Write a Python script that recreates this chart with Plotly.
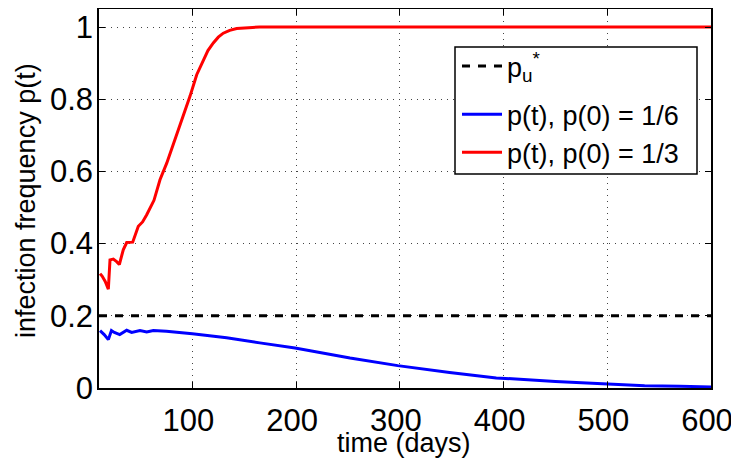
import plotly.graph_objects as go

# ---- data ----
t_red = [11, 13, 16, 19, 20.6, 23.8, 27, 29.6, 33.4, 36.7, 42.5, 47.9, 52, 56, 63,
         68.8, 75.3, 83.3, 91.3, 97.7, 104.2, 110.5, 115, 120.2, 125, 129.8, 136,
         142.7, 150, 158, 165, 200, 300, 400, 500, 600]
p_red = [0.317, 0.31, 0.295, 0.274, 0.355, 0.357, 0.35, 0.342, 0.383, 0.403, 0.404,
         0.448, 0.46, 0.48, 0.52, 0.577, 0.623, 0.688, 0.752, 0.808, 0.868, 0.909,
         0.935, 0.956, 0.972, 0.983, 0.991, 0.996, 0.998, 0.999, 1.0, 1.0, 1.0, 1.0,
         1.0, 1.0]

t_blue = [11, 15, 19, 22, 24.8, 30, 36.7, 41.5, 49.5, 56, 62.4, 75, 100, 133, 165,
          199, 252, 298, 348, 393, 450, 493, 536, 570, 600]
p_blue = [0.159, 0.148, 0.134, 0.159, 0.154, 0.148, 0.16, 0.154, 0.159, 0.155, 0.159,
          0.157, 0.15, 0.139, 0.125, 0.111, 0.083, 0.062, 0.043, 0.028, 0.018, 0.011,
          0.006, 0.005, 0.003]

p_u_star = 0.2
x_limits = [10, 600]
x_ticks = [100, 200, 300, 400, 500, 600]
y_ticks = [0, 0.2, 0.4, 0.6, 0.8, 1]
y_tick_labels = ["0", "0.2", "0.4", "0.6", "0.8", "1"]
x_title = "time (days)"
y_title = "infection frequency p(t)"

FONT = "Liberation Sans, Arial, sans-serif"

# the page body adds an 8px margin; layout numbers below are window pixels
OFF = 8
W, H = 739 - OFF, 458 - OFF
L, R, T, B = 99 - OFF, 711 - OFF, 9 - OFF, 388 - OFF
pw, ph = R - L, B - T

def px(x):
    return (x - OFF - L) / pw

def py(y):
    return (B - (y - OFF)) / ph

fig = go.Figure()
fig.add_trace(go.Scatter(
    x=x_limits, y=[p_u_star, p_u_star], mode="lines",
    name="p<sub>u</sub><sup>*</sup>", legendgroup="a",
    line=dict(color="black", width=3, dash="8px,8px")))
fig.add_trace(go.Scatter(
    x=t_blue, y=p_blue, mode="lines", name="p(t), p(0) = 1/6", legendgroup="b",
    line=dict(color="#0000ff", width=3)))
fig.add_trace(go.Scatter(
    x=t_red, y=p_red, mode="lines", name="p(t), p(0) = 1/3", legendgroup="b",
    line=dict(color="#ff0000", width=3)))

axis_common = dict(
    showline=True, linecolor="black", linewidth=1.5, mirror="ticks",
    ticks="inside", ticklen=6, tickcolor="black", tickwidth=1,
    showgrid=True, gridcolor="#444", gridwidth=1, griddash="1px,5px",
    zeroline=False, automargin=False,
    tickfont=dict(family=FONT, size=31, color="black"),
)

fig.update_layout(
    width=W, height=H,
    margin=dict(l=L, r=W - R, t=T, b=H - B),
    paper_bgcolor="white", plot_bgcolor="white",
    xaxis=dict(range=x_limits, tickvals=x_ticks, ticklabelstandoff=4,
               ticklabelshift=-4, **axis_common),
    yaxis=dict(range=[0, 1.05], tickvals=y_ticks, ticktext=y_tick_labels,
               ticklabelstandoff=-2, **axis_common),
    legend=dict(x=px(457), y=py(42), xanchor="left", yanchor="top",
                bgcolor="rgba(0,0,0,0)", borderwidth=0,
                font=dict(family=FONT, size=27, color="black"),
                tracegroupgap=10, itemwidth=40),
    showlegend=True,
    shapes=[dict(type="rect", xref="paper", yref="paper",
                 x0=px(455), x1=px(697), y0=py(174), y1=py(47),
                 line=dict(color="black", width=1.5), fillcolor="white",
                 layer="above")],
    annotations=[
        dict(text=x_title, xref="paper", yref="paper", x=px(404), y=py(443),
             xanchor="center", yanchor="middle", showarrow=False,
             font=dict(family=FONT, size=27, color="black")),
        dict(text=y_title, xref="paper", yref="paper", x=px(26), y=py(201),
             xanchor="center", yanchor="middle", showarrow=False, textangle=-90,
             font=dict(family=FONT, size=27, color="black")),
    ],
)

fig.write_html("out.html")
